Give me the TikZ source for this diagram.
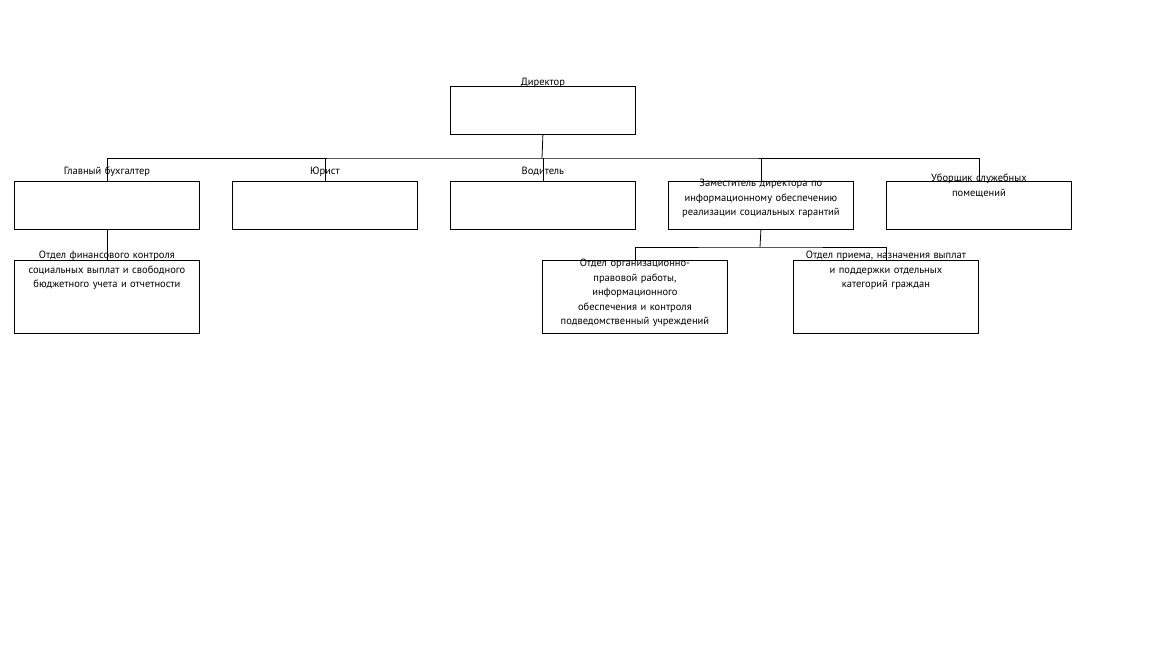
\documentclass[tikz,border=0pt]{standalone}
\usepackage{fontspec}
\setmainfont{PT Sans}
\begin{document}
\begin{tikzpicture}[x=1pt,y=-1pt,
 box/.style={draw,line width=0.8pt,minimum width=185pt,inner sep=0pt,anchor=north west},
 txt/.style={anchor=north,align=center,font=\fontsize{10.5}{14.5}\selectfont,inner sep=0pt,text width=183pt},
 ln/.style={line width=0.8pt}]
\useasboundingbox (0,0) rectangle (1156,652);
\node[box,minimum height=48pt] (d) at (450,86) {};
\node[box,minimum height=48pt] (g) at (14,181) {};
\node[box,minimum height=48pt] (u) at (232,181) {};
\node[box,minimum height=48pt] (v) at (450,181) {};
\node[box,minimum height=48pt] (z) at (668,181) {};
\node[box,minimum height=48pt] (ub) at (886,181) {};
\node[box,minimum height=73pt] (f) at (14,260) {};
\node[box,minimum height=73pt] (o) at (542,260) {};
\node[box,minimum height=73pt] (p) at (793,260) {};
\node[txt] at ([yshift=8]d.north) {Директор};
\node[txt] at ([yshift=14]g.north) {Главный бухгалтер};
\node[txt] at ([yshift=14]u.north) {Юрист};
\node[txt] at ([yshift=14]v.north) {Водитель};
\node[txt] at ([yshift=2]z.north) {Заместитель директора по\\информационному обеспечению\\реализации социальных гарантий};
\node[txt] at ([yshift=7]ub.north) {Уборщик служебных\\помещений};
\node[txt] at ([yshift=9]f.north) {Отдел финансового контроля\\социальных выплат и свободного\\бюджетного учета и отчетности};
\node[txt] at ([yshift=1]o.north) {Отдел организационно-\\правовой работы,\\информационного\\обеспечения и контроля\\подведомственный учреждений};
\node[txt] at ([yshift=9]p.north) {Отдел приема, назначения выплат\\и поддержки отдельных\\категорий граждан};
\coordinate (b1) at (542,158);
\draw[ln] (d.south) -- (b1);
\draw[ln] (g.north) |- (b1) -| (ub.north);
\draw[ln] (u.north) -- (u.north|-b1);
\draw[ln] (v.north) -- (v.north|-b1);
\draw[ln] (z.north) -- (z.north|-b1);
\draw[ln] (g.south) -- (f.north);
\coordinate (b2) at (760,247);
\draw[ln] (z.south) -- (b2);
\draw[ln] (o.north) |- (b2) -| (p.north);
\end{tikzpicture}
\end{document}
